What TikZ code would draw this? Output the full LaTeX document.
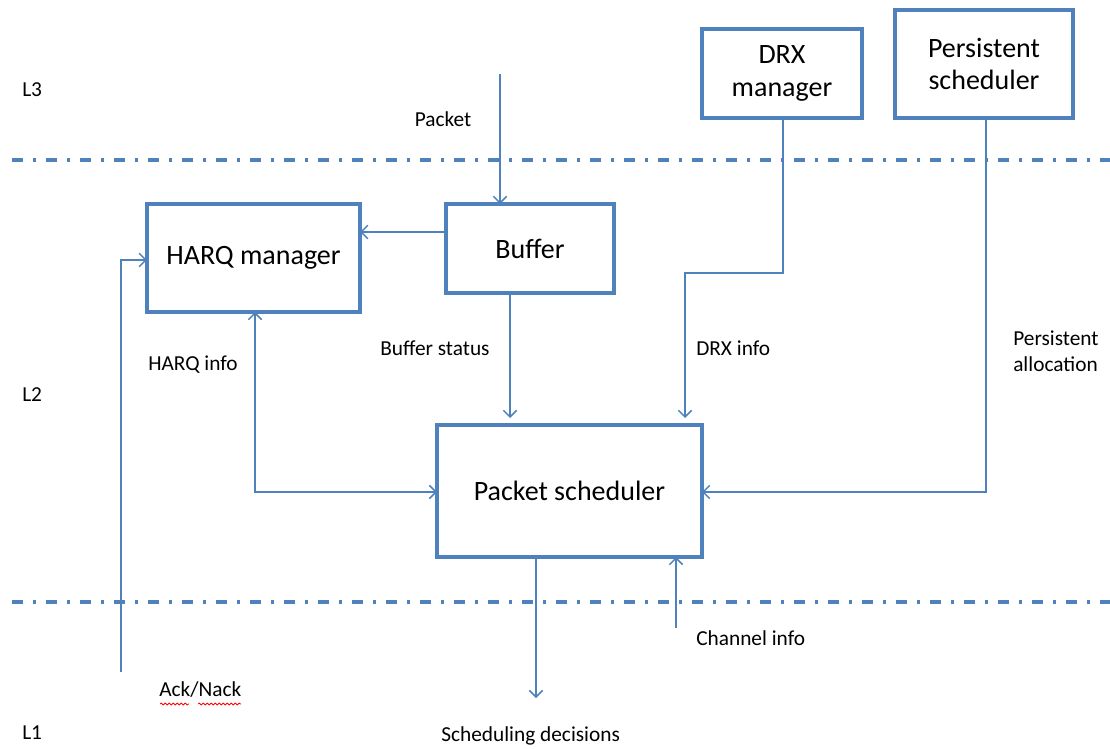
\documentclass[tikz,border=0pt]{standalone}
\usepackage{fontspec}
\setmainfont{Carlito}
\usetikzlibrary{arrows.meta,decorations.pathmorphing}
\definecolor{offblue}{HTML}{4F81BD}
\begin{document}
\begin{tikzpicture}[x=0.75pt,y=-0.75pt,
  blk/.style={draw=offblue,line width=2.6pt,inner sep=0pt,outer sep=0pt,
    align=center,font=\fontsize{21}{24.5}\selectfont},
  lbl/.style={anchor=west,inner sep=0pt,font=\fontsize{16}{19.5}\selectfont,align=left},
  flow/.style={draw=offblue,line width=1.1pt,
    -{Straight Barb[length=5pt,width=10pt,line width=1.1pt]}},
  bothflow/.style={flow,{Straight Barb[length=5pt,width=10pt,line width=1.1pt]}-{Straight Barb[length=5pt,width=10pt,line width=1.1pt]}},
  layerline/.style={draw=offblue,line width=2.4pt,
    dash pattern=on 8.25pt off 7.5pt on 2.25pt off 7.5pt},
  spell/.style={draw=red,line width=0.6pt,decorate,
    decoration={snake,segment length=3pt,amplitude=0.7pt}}]
\useasboundingbox (0,0) rectangle (1110,749);

% layer separators
\draw[layerline] (12,160) -- (1110,160);
\draw[layerline] (12,602) -- (1110,602);

% layer names
\node[lbl] (l3) at (22,90) {L3};
\node[lbl] (l2) at (22,395) {L2};
\node[lbl] (l1) at (22,733) {L1};

% function blocks
\node[blk,minimum width=160pt,minimum height=81pt] (harq) at (253.5,258) {\raisebox{-2pt}{HARQ manager}};
\node[blk,minimum width=126pt,minimum height=66.75pt] (buf) at (530,248.5) {Buffer};
\node[blk,minimum width=120pt,minimum height=66.75pt] (drx) at (782,73.5) {DRX\\manager};
\node[blk,minimum width=133.5pt,minimum height=81pt] (pers) at (984,64) {Persistent\\scheduler};
\node[blk,minimum width=198.75pt,minimum height=99pt] (ps) at (569.5,491) {Packet scheduler};

% free ends
\coordinate (pktin) at (500,74);
\coordinate (acknack) at (121,672);
\coordinate (schedout) at (536,698);
\coordinate (chanin) at (676,628);

% connectors
\draw[flow] (pktin) -- (pktin |- buf.north);
\draw[flow] (buf.west |- 0,232) -- (harq.east |- 0,232);
\draw[flow] (buf.south -| 510,0) -- (510,418);
\draw[flow] (drx.south -| 783,0) -- (783,273) -- (685,273) -- (685,418);
\draw[flow] (pers.south -| 986,0) -- (986,492) -- (ps.east |- 0,492);
\draw[bothflow] (harq.south -| 255,0) -- (255,492) -- (ps.west |- 0,492);
\draw[flow] (acknack) -- (121,260) -- (harq.west |- 0,260);
\draw[flow] (ps.south -| schedout) -- (schedout);
\draw[flow] (chanin) -- (chanin |- ps.south);

% connector labels
\node[lbl,anchor=center] (pkt) at (443,119) {Packet};
\node[lbl] (harqinfo) at (148,365) {HARQ info};
\node[lbl] (bufstat) at (380,348) {Buffer status};
\node[lbl] (drxinfo) at (696,348) {DRX info};
\node[lbl] (persalloc) at (1013,351) {Persistent\\allocation};
\node[lbl] (chan) at (696,638) {Channel info};
\node[lbl] (ack) at (159,690) {Ack/Nack};
\node[lbl] (sched) at (441,736) {Scheduling decisions};

% spell-check squiggles under the Ack/Nack label
\draw[spell] (160,704) -- (189,704);
\draw[spell] (198,704) -- (241,704);
\end{tikzpicture}
\end{document}
